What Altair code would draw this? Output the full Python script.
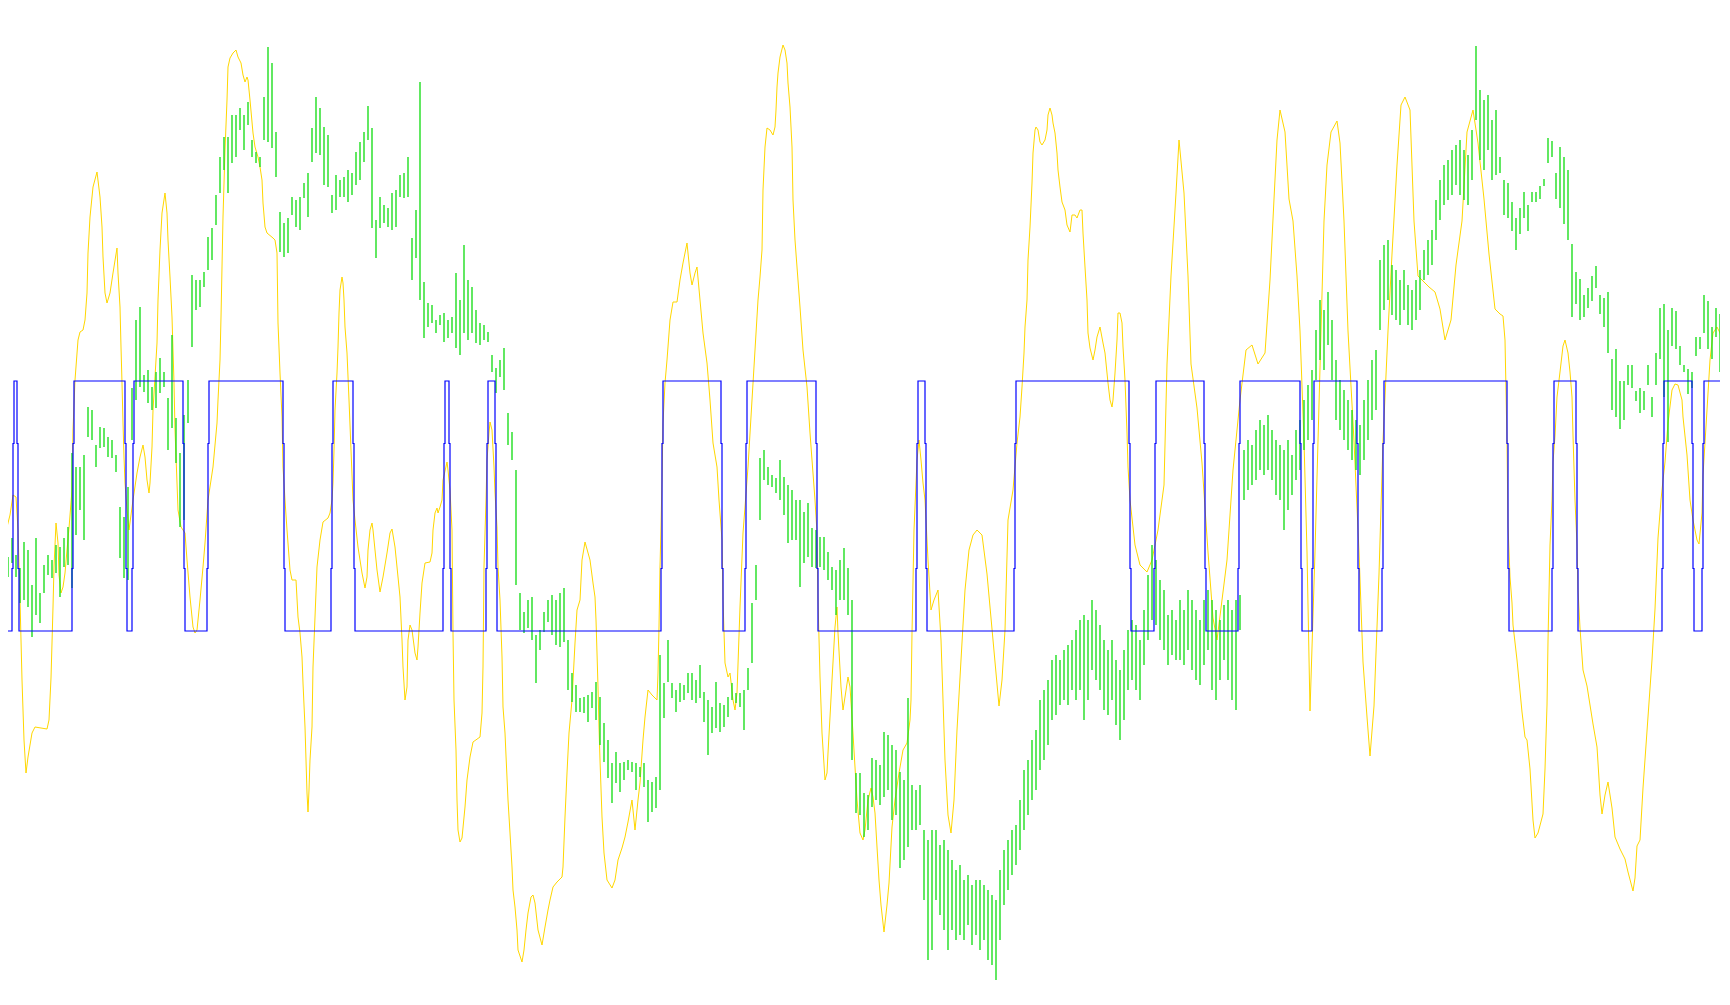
import altair as alt
import pandas as pd

# Price bars (high, low) in points, one entry every second bar
BARS = [
(447,422),(448,420),(443,423),(462,437),(445,423),(432,397),(458,400),(450,393),(415,363),(462,385),
(407,377),(435,407),(445,425),(440,422),(455,427),(453,403),(462,433),(473,435),(547,412),(533,465),
(533,490),(545,460),(593,563),(590,560),(555,533),(573,552),(572,553),(563,543),(560,542),(545,528),
(493,442),(483,422),(513,420),(612,560),(680,600),(693,613),(625,608),(630,597),(613,590),(628,592),
(642,607),(628,613),(602,550),(665,572),(582,537),(547,473),(585,480),(620,577),(725,653),(720,690),
(720,693),(728,713),(763,730),(772,740),(805,775),(843,807),(863,830),(863,807),(885,837),(885,843),
(892,870),(885,850),(898,875),(860,843),(848,837),(843,833),(903,860),(953,858),(937,852),(868,823),
(788,748),(777,743),(782,747),(803,785),(800,773),(803,770),(817,802),(827,783),(872,838),(903,847),
(892,845),(873,815),(865,813),(805,787),(825,790),(820,803),(823,803),(830,798),(827,805),(848,815),
(858,820),(868,838),(894,860),(872,772),(780,742),(803,772),(795,777),(792,773),(807,770),(810,773),
(825,803),(827,802),(843,803),(762,720),(790,742),(918,700),(718,662),(697,673),(695,677),(680,667),
(685,675),(687,658),(680,662),(683,667),(727,652),(700,645),(755,667),(720,660),(713,667),(690,657),
(677,655),(675,660),(668,658),(645,628),(632,607),(640,623),(652,610),(587,555),(568,540),(530,415),
(407,370),(388,367),(400,372),(403,360),(365,317),(370,350),(388,368),(400,378),(405,365),(400,355),
(407,353),(412,358),(360,310),(327,298),(315,288),(302,288),(303,287),(305,278),(308,292),(318,280),
(303,255),(277,238),(260,222),(237,197),(248,217),(237,208),(238,220),(240,230),(238,228),(237,210),
(233,223),(237,213),(220,178),(218,188),(223,192),(345,210),(317,282),(360,318),(317,302),(310,288),
(317,298),(315,300),(327,307),(327,300),(320,297),(335,302),(308,278),(300,245),(293,267),(318,272),
(297,268),(295,273),(303,283),(317,300),(307,297),(307,293),(310,270),(332,310),(397,337),(435,400),
(542,480),(550,520),(533,515),(525,513),(522,507),(540,500),(523,485),(515,457),(510,460),(500,460),
(500,413),(488,437),(497,443),(472,433),(470,432),(463,433),(463,430),(448,420),(433,410),(430,385),
(440,400),(452,400),(432,385),(400,240),(227,187),(227,185),(207,163),(205,170),(242,193),(240,200),
(235,195),(268,203),(265,210),(255,180),(250,185),(228,132),(220,140),(302,153),(215,170),(210,170),
(215,175),(170,100),(160,40),(170,50),(170,100),(155,85),(160,70),(150,50),(140,70),(130,60),
(135,65),(120,60),(125,75),(115,55),(120,65),(120,50),(115,60),(110,40),(105,35),(100,20),
(130,60),(150,95),(160,110),(170,125),(175,135),(200,150),(230,170),(240,185),(260,200),(270,210),
(300,230),(310,240),(320,255),(340,280),(345,285),(340,295),(350,300),(355,295),(360,310),(370,300),
(380,310),(385,280),(380,300),(400,330),(390,320),(375,310),(360,290),(350,285),(360,300),(340,275),
(330,260),(350,280),(370,310),(380,320),(375,310),(360,300),(390,335),(425,360),(455,380),(440,375),
(420,360),(410,350),(385,335),(390,345),(380,340),(400,340),(390,335),(410,350),(400,330),(390,320),
(380,315),(400,335),(410,350),(400,310),(390,300),(380,320),(395,340),(400,320),(390,300),(400,290),
(405,370),(550,500),(560,510),(555,515),(570,520),(580,530),(575,525),(585,530),(570,520),(560,505),
(555,500),(550,470),(560,490),(545,505),(570,520),(580,530),(600,550),(615,560),(630,580),(670,620),
(700,640),(690,630),(708,655),(680,620),(640,580),(620,570),(610,560),(600,550),(590,540),(580,530),
(575,525),(600,540),(620,560),(640,580),(650,590),(740,670),(755,690),(760,700),(735,685),(730,680),
(720,675),(730,690),(715,675),(710,670),(720,680),(730,690),(750,720),(760,725),(770,735),(800,760),
(820,780),(835,795),(840,800),(850,805),(855,815),(860,805),(850,800),(845,795),(870,820),(954,880),
(910,840),(900,830),(905,850),(880,820),(890,825),(843,827),(820,785),(817,782),(798,769),(782,750),
(792,766),(808,782),(795,769),(808,798),(808,798),(814,801),(821,814),(862,837),(859,843),(827,801),
(853,792),(843,776),(830,760),(756,683),(728,696),(721,680),(705,683),(712,692),(724,699),(734,712),
(705,686),(702,673),(708,647),(641,590),(651,583),(619,571),(619,580),(635,615),(635,612),(609,599),
(612,587),(609,590),(635,615),(603,583),(647,615),(692,641),(696,603),(670,558),(692,654),(689,651),
(654,635),(635,628),(631,606),(628,612),(663,644),(663,651),(705,667),(699,651),(673,641),(692,663),
(686,628),(603,587),(603,583),
]

# Oscillator (bar, value)
YELLOW = [
(0,70),(1.5,20),(3.5,-27),(5,-15),(6.5,5),(8,3),(9,-30),(10,-100),(11,-180),(12,-240),
(13,-273),(14,-257),(16,-233),(17.5,-227),(23.5,-229),(24.5,-220),(25.5,-178),(26,-143),(26.5,-107),(27,-67),
(28,-23),(29,-43),(29.5,-75),(30.5,-93),(31.5,-87),(32.5,-73),(33.5,-50),(34.5,-28),(36,10),(36.5,70),
(37.5,120),(39,160),(40,168),(41.5,170),(42.5,180),(43.5,207),(44,247),(45,283),(46.5,313),(48.5,328),
(50,303),(51,273),(51.5,243),(52.5,207),(53.5,197),(55,207),(56.5,227),(58.5,252),(59,227),(60,193),
(60.5,153),(61,117),(61.5,77),(62,43),(62.5,17),(63.5,-10),(64.5,-30),(66.5,0),(68.5,27),(70,43),
(71.5,55),(72.5,43),(73.5,20),(74.5,7),(75,17),(76,53),(76.5,90),(77.5,123),(78.5,157),(79,200),
(80,250),(81,287),(82.5,307),(83.5,287),(84,260),(85,223),(86,183),(86.5,150),(87,117),(87.5,70),
(88.5,17),(89,-10),(90.5,-27),(92.5,-33),(93.5,-60),(95,-97),(96.5,-127),(97.5,-133),(98.5,-130),(100,-100),
(101.5,-67),(102.5,-43),(104,0),(106.5,33),(108.5,77),(109,100),(110,140),(110.5,183),(111,233),(111.5,283),
(112.5,350),(113.5,400),(114,433),(115,442),(116.5,447),(118,450),(119,443),(120.5,437),(121.5,425),(122.5,418),
(123.5,423),(124,420),(125,400),(126.5,367),(127.5,353),(129,343),(130,333),(131,320),(131.5,297),(132.5,273),
(133.5,267),(136.5,262),(137.5,260),(138.5,247),(139,177),(140,127),(141,83),(141.5,33),(142.5,0),(143.5,-30),
(145,-70),(146,-80),(148,-80),(149,-117),(150,-133),(151,-157),(151.5,-183),(152.5,-227),(153,-260),(153.5,-293),
(154,-312),(154.5,-290),(155,-260),(156,-227),(156.5,-167),(157.5,-117),(158.5,-67),(160,-40),(161.5,-22),(164,-18),
(165,-13),(166,0),(166.5,17),(167,50),(167.5,90),(168.5,127),(169,153),(169.5,187),(170,210),(171,223),
(171.5,217),(172,200),(172.5,173),(173.5,147),(174.5,100),(175.5,50),(176.5,0),(177.5,-20),(179,-47),(181,-73),
(182.5,-88),(183.5,-77),(184,-50),(185,-30),(186,-23),(186.5,-30),(187.5,-50),(188.5,-70),(190,-92),(191.5,-77),
(193.5,-53),(195,-33),(196,-29),(197.5,-47),(199,-77),(200,-97),(201,-140),(201.5,-167),(202.5,-200),(203.5,-187),
(204,-140),(205,-125),(206,-130),(207.5,-153),(208.5,-160),(209,-147),(210,-113),(211,-83),(212.5,-63),(215,-62),
(216,-53),(216.5,-30),(217.5,-13),(218.5,-8),(219,-13),(220,-7),(221,0),(221.5,20),(223.5,38),(224,30),
(225,10),(226,-30),(226.5,-133),(227,-200),(228,-250),(228.5,-300),(229,-330),(230,-342),(231,-338),(232.5,-307),
(233.5,-280),(235,-257),(236.5,-242),(240,-237),(241,-213),(241.5,-167),(242,-67),(243,0),(243.5,40),(244.5,67),
(245,78),(246,70),(247,33),(247.5,7),(248.5,-27),(249,-67),(250,-100),(251,-157),(251.5,-207),(252.5,-233),
(254,-300),(255,-333),(256,-367),(256.5,-390),(257.5,-407),(258.5,-430),(259,-450),(261,-462),(262,-450),(263,-430),
(264,-413),(265.5,-397),(266.5,-395),(267.5,-403),(269,-430),(271,-445),(272.5,-427),(274,-410),(275,-400),(276.5,-387),
(278.5,-382),(281,-377),(281.5,-367),(282.5,-317),(283.5,-273),(284.5,-233),(286,-200),(287.5,-143),(288.5,-110),(290,-100),
(291,-60),(292.5,-42),(295,-60),(296.5,-83),(297.5,-97),(298,-120),(298.5,-153),(299,-187),(299.5,-227),(300,-260),
(301,-317),(302,-353),(303.5,-380),(306,-388),(307.5,-380),(309,-360),(311,-348),(312.5,-337),(314,-322),(316,-300),
(317.5,-330),(319,-300),(320,-283),(321.5,-240),(322.5,-217),(324,-190),(326,-195),(328.5,-200),(329,-173),(329.5,-127),
(330,-67),(330.5,-27),(331,20),(331.5,77),(332.5,117),(333.5,140),(335,180),(336.5,198),(338.5,198),(340,220),
(341.5,237),(343.5,257),(345,227),(346,215),(347.5,227),(348.5,233),(350,200),(351.5,167),(353.5,137),(355,100),
(356.5,57),(358.5,33),(359.5,0),(361,-40),(361.5,-100),(362.5,-163),(364,-177),(365,-173),(366.5,-200),(367.5,-210),
(368.5,-193),(370,-107),(371.5,-33),(372.5,-7),(374,33),(376,100),(377.5,150),(379,200),(380,223),(381,250),
(381.5,310),(382.5,353),(383.5,372),(385,370),(386.5,365),(387.5,373),(388,390),(388.5,413),(389,427),(390,443),
(391.5,455),(392.5,450),(393.5,437),(394,417),(395,393),(396,353),(396.5,300),(397.5,260),(398.5,233),(400,193),
(401.5,150),(403.5,113),(405,67),(406,40),(407.5,0),(408.5,-33),(409,-100),(410,-177),(411,-233),(412.5,-280),
(413.5,-273),(414,-253),(415,-217),(416,-180),(417.5,-127),(418.5,-107),(419,-133),(420.5,-187),(421.5,-210),(422.5,-197),
(424,-177),(425,-187),(426,-217),(427.5,-267),(428.5,-300),(430,-333),(431.5,-340),(432.5,-330),(434,-300),(435.5,-288),
(436.5,-297),(437.5,-313),(438.5,-347),(439.5,-380),(440.5,-405),(442,-432),(443.5,-405),(444.5,-383),(446,-327),(447.5,-300),
(449.5,-273),(451.5,-250),(453.5,-243),(455,-220),(455.5,-200),(456,-133),(457,-30),(458.5,40),(459.5,60),(460.5,40),
(461.5,17),(462.5,0),(464,-60),(465.5,-110),(467,-100),(469,-90),(470.5,-140),(472.5,-260),(474,-315),(475.5,-333),
(477,-300),(478.5,-230),(480.5,-160),(482.5,-90),(484.5,-50),(486.5,-35),(488.5,-30),(491,-35),(493.5,-74),(496.5,-140),
(499.5,-206),(501,-180),(502.5,-130),(504,-20),(506.5,10),(508.5,57),(510,83),(511,113),(512,147),(512.5,173),
(513.5,200),(514,240),(515,273),(516,317),(516.5,347),(517.5,370),(518,373),(519,370),(520,358),(521,355),
(522.5,360),(523.5,370),(524,385),(525,392),(526,385),(526.5,377),(527.5,367),(528.5,347),(529,330),(530,313),
(531,298),(532.5,290),(533.5,275),(535,268),(536,285),(537.5,285),(538.5,282),(540,290),(541,290),(541.5,267),
(542.5,233),(543.5,200),(544,167),(545,152),(546.5,140),(547.5,150),(548.5,163),(550,173),(551.5,157),(552.5,147),
(554,117),(555,100),(556,93),(556.5,100),(557.5,127),(558.5,160),(559,187),(560,187),(561,177),(561.5,153),
(562.5,120),(563.5,67),(564,33),(565,0),(567.5,-45),(570,-65),(573.5,-72),(576,-60),(579,-30),(582,15),
(583.5,136),(585.5,224),(588,307),(589.5,360),(592,307),(594,224),(595.5,136),(598.5,92),(601,37),(604,-52),
(606.5,-118),(608.5,-140),(611,-100),(613.5,-60),(616.5,30),(620,100),(623,150),(626,155),(629,136),(632.5,147),
(635,220),(637,301),(638.5,360),(640,390),(642.5,368),(644.5,301),(646.5,279),(648.5,224),(650,169),(652,59),
(653.5,-52),(655,-211),(657.5,-52),(659,59),(660.5,169),(662,279),(663.5,335),(665.5,368),(668.5,379),(670,357),
(672,279),(674,169),(677,59),(679.5,-52),(681.5,-162),(683.5,-217),(685,-256),(687,-206),(689.5,-74),(691.5,59),
(694,169),(696,246),(698.5,335),(700.5,395),(702.5,403),(705,390),(707,279),(709,224),(711.5,219),(714.5,213),
(717.5,208),(720,191),(722.5,160),(725.5,180),(728,235),(731,279),(733.5,368),(736.5,390),(739,357),(742,301),
(744.5,246),(747.5,191),(750,186),(751.5,184),(752.5,160),(753.5,58),(754,-26),(755,-77),(756,-103),(756.5,-125),
(758.5,-160),(761,-212),(762.5,-237),(763.5,-240),(765,-269),(766.5,-320),(767.5,-338),(769,-333),(771.5,-314),(772.5,-269),
(773.5,-205),(774,-141),(775,-45),(776,0),(776.5,38),(777.5,64),(778.5,103),(780,128),(781.5,154),(782.5,160),
(784,147),(785,128),(786,103),(786.5,64),(787.5,0),(788.5,-45),(789,-90),(790,-128),(791.5,-170),(793.5,-186),
(795,-205),(796.5,-224),(798.5,-247),(800,-295),(801,-314),(802.5,-295),(804,-282),(806,-308),(807.5,-337),(810,-349),
(812.5,-359),(814,-372),(816.5,-391),(817.5,-378),(818.5,-346),(820,-340),(821.5,-288),(823.5,-231),(826,-160),(827.5,-109),
(829,-38),(830.5,0),(831.5,20),(832.5,38),(834,77),(836,110),(837.5,116),(839,115),(841,100),(841.5,83),
(843.5,45),(845,0),(846.5,-20),(848.5,-40),(849.5,-44),(851,-13),(851.5,25),(853.5,90),(855,140),(856.5,167),
(858.5,173),(860,167),(861.5,154),(863.5,135),(865,119),
]

# Trend state: starts up (1), flips at these bars
BLUE_START = 1
BLUE_SWITCH = [2, 6.5, 9, 36.5, 63, 66.5, 92, 104, 142, 166, 177, 222, 225, 243.5, 248,
               331, 361, 373, 408.5, 458.5, 463, 507.5, 565, 577.5, 602.5, 619.5, 650.5,
               656.5, 679, 691.5, 754, 776.5, 788.5, 831.5, 846.5, 851.5]
BLUE_END = 866
STAIR_DOWN = [1, 0.75, 0.25, 0]

# ---- tables
gdf = pd.DataFrame({"bar": [2 * k for k in range(len(BARS))],
                    "high": [b[0] for b in BARS],
                    "low": [b[1] for b in BARS]})
ydf = pd.DataFrame({"bar": [p[0] for p in YELLOW], "osc": [p[1] for p in YELLOW]})

pts = [(0, BLUE_START)]
state = BLUE_START
for t in BLUE_SWITCH:
    seq = STAIR_DOWN if state == 1 else STAIR_DOWN[::-1]
    for j in range(3):
        xx = t - 0.5 + 0.5 * j
        pts.append((xx, seq[j]))
        pts.append((xx, seq[j + 1]))
    state = 1 - state
pts.append((BLUE_END, state))
bdf = pd.DataFrame({"bar": [p[0] for p in pts], "state": [p[1] for p in pts],
                    "seq": list(range(len(pts)))})

xs = alt.Scale(domain=[4, 860], nice=False, zero=False)

yellow = alt.Chart(ydf).mark_line(color="#FFD700", strokeWidth=1, clip=True).encode(
    x=alt.X("bar:Q", scale=xs, axis=None),
    y=alt.Y("osc:Q", scale=alt.Scale(domain=[-488, 492], nice=False, zero=False), axis=None),
)

green = alt.Chart(gdf).mark_rule(color="#1fdf1f", strokeWidth=1.4, clip=True).encode(
    x=alt.X("bar:Q", scale=xs, axis=None),
    y=alt.Y("low:Q", scale=alt.Scale(domain=[12, 992], nice=False, zero=False), axis=None),
    y2="high:Q",
)

blue = alt.Chart(bdf).mark_line(color="#0000ff", strokeWidth=1.2, clip=True).encode(
    x=alt.X("bar:Q", scale=xs, axis=None),
    y=alt.Y("state:Q", scale=alt.Scale(domain=[-1.428, 2.492], nice=False, zero=False), axis=None),
    order="seq:Q",
)

chart = (
    alt.layer(yellow, green, blue)
    .resolve_scale(y="independent")
    .properties(width=1712, height=980, padding=0, background="white")
    .configure_view(stroke=None)
)

chart.save("out.html", embed_options={"renderer": "svg", "actions": False})
